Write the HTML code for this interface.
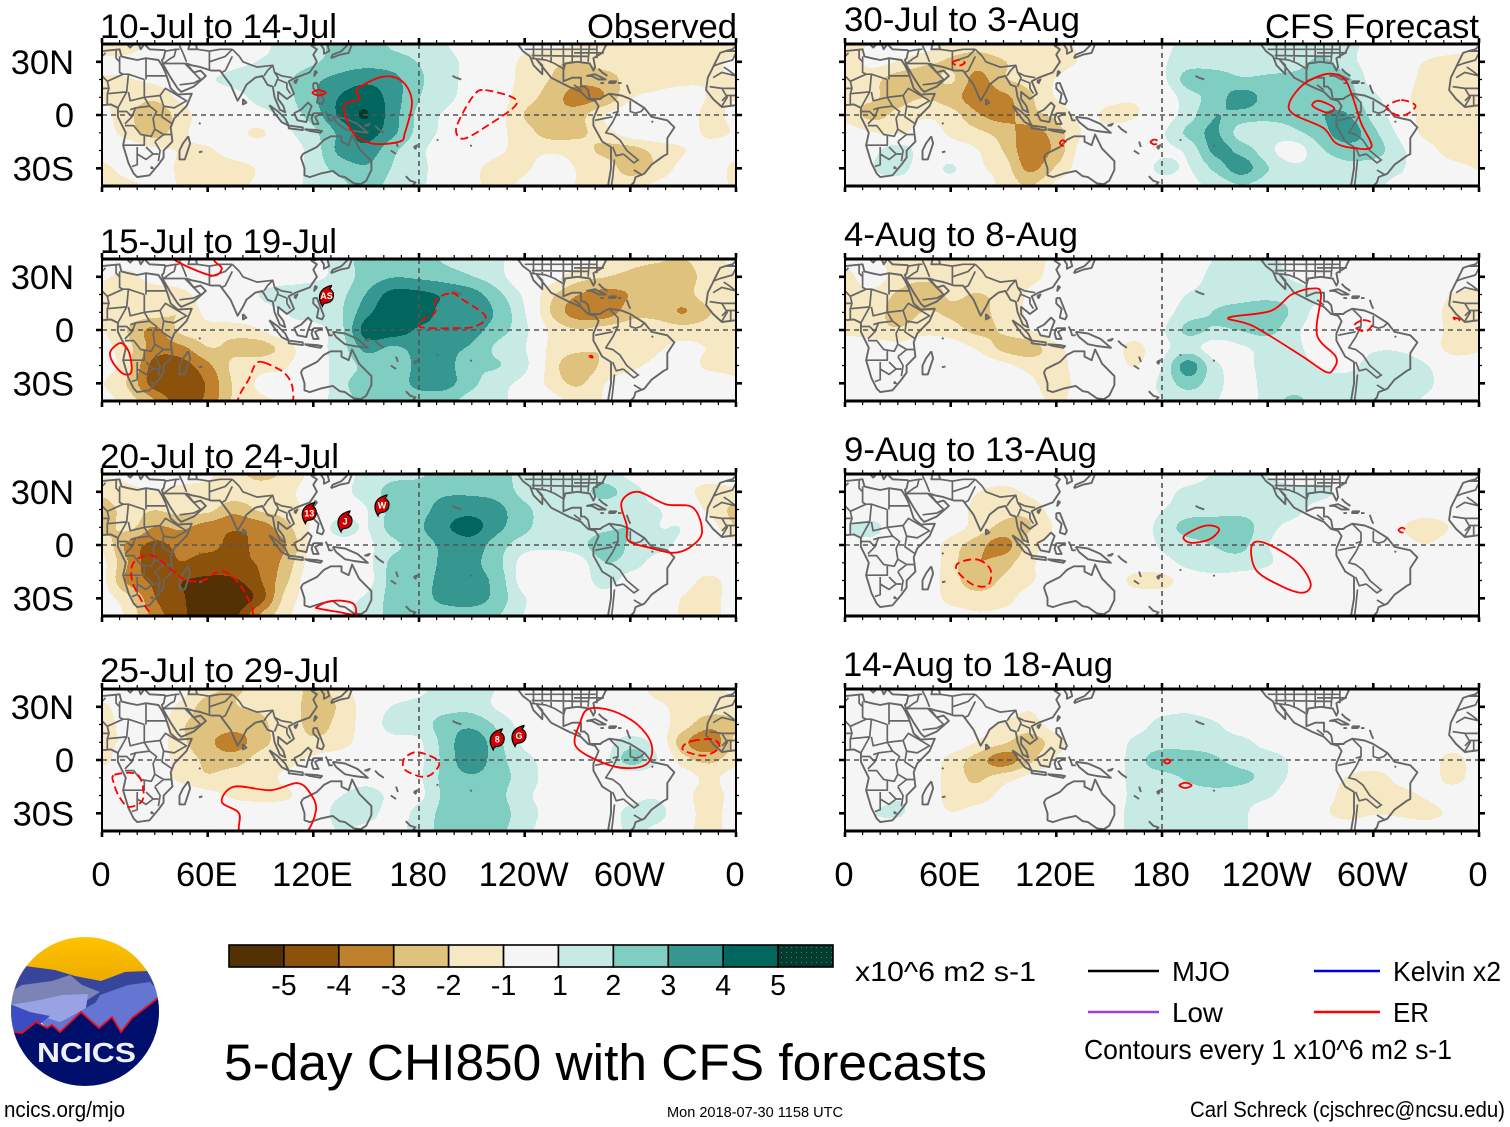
<!DOCTYPE html>
<html lang="en">
<head>
<meta charset="utf-8">
<title>5-day CHI850 with CFS forecasts</title>
<style>
html,body{margin:0;padding:0;background:#fff}
svg{display:block}
text{font-family:"Liberation Sans",sans-serif;fill:#000}
</style>
</head>
<body>
<svg id="chart" xmlns="http://www.w3.org/2000/svg" width="1510" height="1127" viewBox="0 0 1510 1127">
<rect width="1510" height="1127" fill="#fff"/>
<defs><pattern id="stipple" width="5" height="5" patternUnits="userSpaceOnUse"><rect width="5" height="5" fill="#003c30"/><rect x="1" y="2" width="1" height="1" fill="#4f7f72"/></pattern></defs>

<g id="p1"></g>
<g id="p2"></g>
<g id="p3"></g>
<g id="p4"></g>
<g id="p5"></g>
<g id="p6"></g>
<g id="p7"></g>
<g id="p8"></g>

<text x="100" y="38" font-size="34.7" textLength="237" lengthAdjust="spacingAndGlyphs">10-Jul to 14-Jul</text>
<text x="100" y="253" font-size="34.7" textLength="237" lengthAdjust="spacingAndGlyphs">15-Jul to 19-Jul</text>
<text x="100" y="468" font-size="34.7" textLength="239" lengthAdjust="spacingAndGlyphs">20-Jul to 24-Jul</text>
<text x="100" y="682" font-size="34.7" textLength="239" lengthAdjust="spacingAndGlyphs">25-Jul to 29-Jul</text>
<text x="844" y="31" font-size="34.7" textLength="236" lengthAdjust="spacingAndGlyphs">30-Jul to 3-Aug</text>
<text x="844" y="246" font-size="34.7" textLength="234" lengthAdjust="spacingAndGlyphs">4-Aug to 8-Aug</text>
<text x="844" y="461" font-size="34.7" textLength="253" lengthAdjust="spacingAndGlyphs">9-Aug to 13-Aug</text>
<text x="843" y="676" font-size="34.7" textLength="270" lengthAdjust="spacingAndGlyphs">14-Aug to 18-Aug</text>
<text x="587" y="38" font-size="34.7" textLength="150" lengthAdjust="spacingAndGlyphs">Observed</text>
<text x="1265" y="38" font-size="34.7" textLength="214" lengthAdjust="spacingAndGlyphs">CFS Forecast</text>

<g id="colorbar"></g>
<text x="855" y="981" font-size="27.5" textLength="181" lengthAdjust="spacingAndGlyphs">x10^6 m2 s-1</text>

<g>
<line x1="1088" x2="1159" y1="971" y2="971" stroke="#000" stroke-width="2.4"/>
<text x="1172" y="981" font-size="27.5" textLength="58" lengthAdjust="spacingAndGlyphs">MJO</text>
<line x1="1314" x2="1380" y1="971" y2="971" stroke="#0000e6" stroke-width="2.4"/>
<text x="1393" y="981" font-size="27.5" textLength="108" lengthAdjust="spacingAndGlyphs">Kelvin x2</text>
<line x1="1088" x2="1159" y1="1012" y2="1012" stroke="#a03ce6" stroke-width="2.4"/>
<text x="1172" y="1022" font-size="27.5" textLength="51" lengthAdjust="spacingAndGlyphs">Low</text>
<line x1="1314" x2="1380" y1="1012" y2="1012" stroke="#f00" stroke-width="2.4"/>
<text x="1393" y="1022" font-size="27.5" textLength="36" lengthAdjust="spacingAndGlyphs">ER</text>
<text x="1084" y="1059" font-size="27.5" textLength="368" lengthAdjust="spacingAndGlyphs">Contours every 1 x10^6 m2 s-1</text>
</g>

<text x="224" y="1080" font-size="51.4" textLength="763" lengthAdjust="spacingAndGlyphs">5-day CHI850 with CFS forecasts</text>
<a><text x="4" y="1117" font-size="22" textLength="121" lengthAdjust="spacingAndGlyphs">ncics.org/mjo</text></a>
<text x="667" y="1117" font-size="14.5" textLength="176" lengthAdjust="spacingAndGlyphs">Mon 2018-07-30 1158 UTC</text>
<text x="1190" y="1117" font-size="22" textLength="315" lengthAdjust="spacingAndGlyphs">Carl Schreck (cjschrec@ncsu.edu)</text>

<g>
<defs><clipPath id="logoClip"><ellipse cx="85" cy="1011.5" rx="74" ry="74.5"/></clipPath>
<linearGradient id="sun" x1="0" y1="0" x2="0" y2="1"><stop offset="0" stop-color="#ffc400"/><stop offset="1" stop-color="#eca800"/></linearGradient></defs>
<g clip-path="url(#logoClip)">
<rect x="10" y="936" width="150" height="50" fill="url(#sun)"/>
<polygon points="10,985 25,966 55,970 75,976 101,981 125,972 148,971 162,990 162,1010 10,1010" fill="#37459b"/>
<polygon points="10,992 22,985 52,981 70,975 82,985 100,992 78,1006 40,1012 10,1005" fill="#7c84b6"/>
<polygon points="85,1020 100,995 128,985 150,982 162,995 162,1035 85,1035" fill="#6576d2"/>
<polygon points="10,1005 40,1000 62,995 88,994 86,1008 60,1022 30,1012" fill="#99a3e4"/>
<polygon points="30,1012 60,1022 86,1008 100,1000 120,1040 60,1040" fill="#6576d2"/>
<polygon points="10,1004 30,1012 50,1016 40,1024 15,1040 10,1040" fill="#3c4dc4"/>
<polygon points="12,1032 22,1033 36,1022 47,1028 52,1025 60,1032 81,1012 99,1028 112,1017 121,1032 132,1018 158,998 162,998 162,1090 10,1090" fill="#000f6b"/>
<polyline points="14,1032 22,1033 36,1022 47,1028 52,1025 60,1032 81,1012 99,1028 112,1017 121,1032 132,1018 158,998" fill="none" stroke="#e8101c" stroke-width="1.8"/>
</g>
<text x="37" y="1062" font-size="28" font-weight="700" style="fill:#eef0f6" textLength="99" lengthAdjust="spacingAndGlyphs">NCICS</text>
</g>
</svg>

<script>
/* ---------- shared axes data ---------- */
const lons = [0,15,30,45,60,75,90,105,120,135,150,165,180,195,210,225,240,255,270,285,300,315,330,345,360];
const lats = [40,30,20,10,0,-10,-20,-30,-40];
const lonTicks = [0,60,120,180,240,300,360];
const lonTickLabels = ["0","60E","120E","180","120W","60W","0"];
const latTicks = [30,0,-30];
const latTickLabels = ["30N","0","30S"];
const levelBreaks = [-5,-4,-3,-2,-1,1,2,3,4,5];
const levelColors = ["#543005","#8c510a","#bf812d","#dfc27d","#f6e8c3","#f5f5f5","#c7eae5","#80cdc1","#35978f","#01665e","#003c30"];
const colorbarLabels = ["-5","-4","-3","-2","-1","1","2","3","4","5"];

/* ---------- CHI850 anomaly fields (x10^6 m2/s), rows = lats, cols = lons ---------- */
const field1 = [
[-1.2,-1.2,-.5,0,0,.3,.5,1.1,1.3,2.2,2.2,1.6,1.3,.8,0,0,-.4,-.5,-.7,-1.2,-1.5,-1.4,-1.4,-1.2,-1.2],
[-.6,-.5,0,0,0,.5,.8,1.1,1.6,2.2,2.4,2.2,1.7,1.2,.3,-.1,-1,-1.5,-1.8,-1.4,-1.5,-1.5,-1.4,-1,-.6],
[-.8,-.8,-.5,0,.6,1,1.1,1.6,2.5,3.1,3.5,3.1,1.9,1.3,.2,-.2,-1.1,-1.8,-2.4,-2.2,-1.4,-1.2,-1,-.8,-.8],
[-.8,-1.2,-1.5,-.5,0,.4,1.1,1.5,2.6,3.8,4.3,3.3,1.8,1.1,.2,-.3,-1.3,-2.2,-3.2,-2.7,-.9,-.5,-.3,-.8,-.8],
[-.4,-1.5,-2.5,-1.2,-.2,0,.3,1.2,2.2,3.9,4.8,3.2,1.5,.6,0,-.4,-1.8,-2.5,-2.2,-.8,0,0,-.2,-1,-.5],
[-.3,-1.2,-2.2,-1,-.3,-.4,-.9,.5,1.5,3,4.2,3,1.4,.5,0,-.5,-1.3,-2.2,-2,-1.2,-.2,0,-.3,-.9,-.7],
[-.2,0,-.5,-.8,-.9,-.2,0,.2,1.2,3,3.4,2,1,.2,0,-.6,-1,-.9,-1.2,-2,-2.2,-1.4,-.8,-.4,-.3],
[-1,-.3,0,-1,-1.3,-1.2,-.6,0,1.2,2.1,2.6,1.7,1.1,0,-.5,-1.1,-.9,-.3,-.8,-1.1,-2.2,-1.5,-.4,-.2,-1],
[-1.1,-1,-.5,-.8,-1.1,-1,-.5,.2,1.1,1.5,2,1.5,1,0,-.5,-1.1,-.5,-.2,-.8,-1.2,-1.1,-.5,0,0,-1]];
const field2 = [
[-.4,-.3,-.1,0,0,0,0,0,.4,1.2,2.2,2.4,2.2,1.6,1.2,.9,0,-.2,-.3,-.6,-1.3,-1.6,-1.8,-1.2,-.5],
[-.6,-1,-.3,-.3,0,0,0,0,.5,1.1,2.2,2.7,2.6,2.3,1.8,1.1,-.1,-.3,-1.3,-1.7,-2.1,-2.4,-2.2,-1.3,-.8],
[-1.3,-1.4,-1.3,-1,-.3,0,.8,1.5,1.5,1.5,2.8,4.1,4,3.6,3.2,2,.5,-1.5,-2.7,-3.1,-2.7,-2.1,-2.1,-1.2,-.8],
[-1.2,-1.2,-1.3,-1.7,-.4,0,.1,.8,1.2,1.6,3.4,4.6,4.3,3.4,3.5,2.5,.8,-1.8,-3.3,-3.4,-2.2,-2.1,-2.8,-1.8,-1],
[-.7,-1.8,-3,-1.5,-1.2,-1.3,-.8,.3,.4,1.4,4.2,4.4,3.6,3.4,3.1,2.2,1,-1,-1.7,-1.4,-1.2,-1.2,-1.3,-1.2,-1],
[-.4,-1.5,-3.2,-3,-1.8,-2,-2.2,-1.2,.3,1.2,3.1,2.6,3.1,3,2.6,1.5,.8,-1,-1.5,-1.7,-1.4,-.9,-.5,-.8,-1],
[-.2,-1.5,-4.2,-4.2,-3,-1.5,-1.1,-.8,.2,1.1,2,2,3,3.1,2,1.8,1,-1.2,-2.5,-1.5,-1,-.5,-.2,-1,-1],
[-.7,-1.9,-4.3,-4.5,-3.6,-1.6,-.6,-.5,-.2,1.4,2.2,2,3.1,3.1,2,1.1,.4,-1.1,-1.9,-.8,-.2,0,0,0,-.6],
[-.3,-1.3,-2.7,-4.4,-3.5,-1.6,-.9,-.6,.2,1.2,2.1,2,2.1,2.1,1.3,1,.2,-.3,-1.1,-.7,0,0,0,0,-.3]];
const field3 = [
[-.6,-.5,-.3,-.4,-.6,-1.4,-2,-1.5,-.4,.2,1.1,1.5,1.6,2.2,2.4,2.2,1.3,1.1,1.2,1.2,.5,0,-.2,-.3,-.2],
[-1.5,-1,-.8,-1,-1.1,-1.2,-1.3,-1,-.2,.4,1.2,2.1,2.3,2.6,2.6,2.4,1.4,1,1.2,2.1,1.2,.3,-.4,-1.1,-1],
[-2.2,-1.4,-1.7,-1.4,-1.5,-2.4,-1.6,-1.3,-.3,.2,.7,2.1,2.4,3.2,3.4,3,2,1.2,.9,1.1,1,.8,.2,-1,-2],
[-2.2,-1.5,-2.8,-2.6,-3.2,-3.6,-3.3,-2,-.5,1.2,.7,2.2,2.6,3.6,4.1,3,2,1.1,.9,1.5,1.7,.8,.7,-.2,-1.7],
[-1,-3,-4,-3.4,-3.4,-4,-3.4,-2.7,-.2,.2,.5,1.5,2.2,3,3.3,2.2,1.2,1,1.3,2.4,1.6,1.1,.5,0,-.5],
[-.5,-2.8,-4.4,-3.8,-4.3,-4,-3.6,-2.3,-.2,0,.4,2,2.1,3,3,2,.3,0,.2,1.7,1.3,.3,0,0,-.1],
[-.5,-3,-4,-4.7,-4.9,-4.9,-3.8,-1.9,.1,0,.3,2.1,2.3,3.1,3.2,2.3,.2,0,0,1.2,.2,0,-.3,-1,-.2],
[-.3,-1.5,-3.7,-4.6,-5.5,-5.6,-4.2,-1.3,-.3,.4,.9,2.1,2.3,3.1,3.3,2.3,.8,.1,0,.3,0,0,-.8,-1.2,-.1],
[0,-1,-3.2,-4.5,-5.3,-5,-2.6,-1,.1,.4,1.2,2,2,2.1,2.1,1.8,.7,0,0,0,0,0,-.9,-1.2,0]];
const field4 = [
[0,0,-.2,-.4,-1.5,-1.8,-1.5,-1,-2.1,-1.3,-.1,0,.5,1.1,1.1,.7,.3,.8,.3,0,-.1,-1.1,-1.2,-1,-.5],
[-1,0,-.2,-1,-2.2,-1.8,-1.6,-1.2,-2.2,-1.6,-.2,.8,1.1,1.4,1.4,.6,0,.3,0,0,0,-.5,-1.1,-1.3,-1.4],
[-1.3,-.2,0,-1.6,-2.1,-2.3,-2,-1.2,-2.1,-1.4,-.2,1.2,1.3,2.2,2.5,1.5,.3,0,0,0,0,-.3,-1.3,-2.4,-1.8],
[-.9,-.6,-.2,-1.5,-2.5,-3.2,-2.1,-1.3,-1.5,-1.2,-.2,.3,.6,2.2,3.4,2,.5,0,0,.3,1.2,.3,-2.4,-3.5,-1.5],
[-1.1,0,-.3,-1.1,-2,-2.2,-1.3,-1.1,-.5,-.1,0,0,.5,2.1,3.4,2.1,1.1,.3,0,.3,2.2,.8,-1.3,-2,-1.1],
[0,0,-.2,-1,-1.6,-1.2,-1.2,-.5,0,0,.3,0,.6,2.1,2.6,2.1,1.3,.3,0,0,0,0,-.2,-1,-.2],
[0,0,0,0,-.4,-.9,-1.1,-.9,.1,.7,1.2,.5,.5,2,2.2,2,1,.3,0,.2,.4,.6,-.3,-1.3,-.2],
[0,0,0,-.1,-.1,-.1,0,0,.1,1.1,1.2,.3,1.1,2.1,2.6,2.2,1.2,.4,0,.2,1,1.1,-.1,-1.2,-.1],
[0,0,0,0,-.8,-.2,0,0,.1,.8,.4,.2,1.3,2,2.3,2,1.1,.2,0,.2,.9,.5,-.3,-1.2,-.1]];
const field5 = [
[-1,-.7,-.3,-.2,-1.1,-1.4,-1.1,-.8,-1.1,-.5,0,0,.4,1.2,1.2,1.2,1.1,1.1,1.1,1.1,.3,0,0,0,-.5],
[-1.3,-.5,-.8,-1.5,-1.9,-2.3,-1.8,-1.3,-1.2,-.6,0,0,.6,1.3,1.3,1.2,1.1,1.2,2,1.1,.3,-.1,-.8,-1.2,-1.2],
[-1.4,-1.4,-2.3,-2.4,-1.6,-3.1,-1.9,-1.4,-.7,0,0,0,.5,2.2,2.3,1.9,2,2.2,2.5,2,.3,.1,-1.2,-1.2,-1],
[-1.5,-1.6,-2.1,-1.8,-2.3,-3.3,-3,-1.9,-.7,-.1,-.4,-.6,0,1.3,2.2,3.2,2.4,2.3,2.5,2.2,1,0,-1.6,-1.3,-1],
[-1.2,-2,-1.5,-.9,-1.3,-2.6,-3.1,-2.1,-1.5,-.4,-1,-.8,.1,1.3,2.7,2.4,2.1,2.2,2.7,2.8,1.4,.1,-1.2,-1.2,-1.2],
[-.2,-.7,-.9,-.3,-.9,-1.5,-2.2,-3.2,-2.2,-.7,-.4,-.1,.6,2,2.9,1.3,1.1,1.5,2.3,3.3,2,.5,-1.1,-1.5,-1],
[0,.3,1.4,.1,-.2,-.7,-1.8,-3.4,-2.4,-.3,0,0,.5,1,3,2.4,1.1,.2,1.6,2.2,2.2,1,-.2,-1.2,-1],
[-.1,.7,1.3,0,.9,-.5,-1.2,-3,-1.6,-.2,0,0,1,.7,2,3.2,1.8,1,1.2,1.5,1.2,.9,-.1,-.4,-.8],
[0,0,0,0,0,-.2,-1,-1.8,-.5,0,0,0,.2,.5,1,1.7,1.2,1,1.1,1.2,1,.4,0,0,0]];
const field6 = [
[-.2,-.6,-1.1,-1.2,-1.2,-1.3,-1.2,-1.1,-.5,-.2,0,0,0,0,.8,1.1,1.1,.3,0,0,0,0,0,0,0],
[-1.1,-.2,-1.2,-1.5,-1.3,-1.1,-1.1,-1,-.4,-.1,0,0,0,.2,1.1,1.2,1.2,.6,0,0,0,0,0,0,0],
[-1.2,-1,-1.9,-2.4,-1.6,-1.8,-1.4,-.6,-.1,0,0,0,.1,.8,1.2,1.3,1.4,1.3,.8,0,0,0,0,-.8,-1.1],
[-.8,-1,-2.3,-1.7,-1.9,-2.1,-1.3,-.6,0,0,0,0,.3,1.3,1.8,2.2,2.5,1.5,.3,0,0,0,0,-1.2,-1.2],
[-1,-1.3,-1.6,-1.1,-1.3,-2,-1.6,-.8,0,0,0,0,.6,2,1.6,1.8,2.1,1,.2,0,0,0,0,-1.1,-1.1],
[0,0,-.4,0,-.2,-.9,-2,-2.2,-1,-.2,-.1,-1.1,.4,1.2,.2,.6,1.1,1,.2,.1,.6,.6,.1,-1.2,-1],
[0,0,0,0,0,0,-.5,-1.1,-1.3,0,0,-.8,.8,3.2,1,.5,1.1,1.2,.6,.5,1.1,1.2,.8,0,0],
[0,0,0,0,0,0,-.1,-.5,-1.3,-.2,0,0,1,2.2,1.1,.3,1.1,1.2,1.1,1.1,1.2,1.2,1,0,0],
[0,0,0,0,0,0,0,-.2,-1,-.1,0,.3,.7,1.1,.8,.3,1.1,2,1.1,1.1,1.1,1.1,.6,0,0]];
const field7 = [
[0,0,0,0,0,0,0,0,0,0,0,0,0,0,.9,1.2,.7,0,0,0,0,0,0,0,0],
[0,.7,0,0,0,-.7,-1.1,-.5,0,0,0,0,.3,1.1,1.3,1.3,1.3,1.2,1.1,.3,0,0,0,0,0],
[0,0,0,0,0,-1.1,-1.5,-1.4,-.2,0,0,0,.7,1.2,1.3,1.4,1.3,1.1,.2,0,0,0,0,0,0],
[.7,1.1,0,0,-.2,-1.2,-2,-1.8,-.6,0,0,.2,1.1,2.2,2.4,2.3,1.1,.4,0,0,0,-.6,-1.5,-.6,0],
[.3,.3,0,0,-1.2,-2.3,-3.2,-1.3,-.2,0,0,0,.9,1.3,1.8,2,.8,.2,0,0,0,-.2,-.7,0,0],
[0,0,0,0,-1.3,-2.7,-2.2,-1,0,0,0,0,.3,1.1,1.3,1.3,.9,0,0,0,0,0,0,0,0],
[0,0,0,0,-1.3,-2.2,-1.6,-.9,0,0,0,-1.1,-1.2,0,.4,.2,0,0,0,0,0,0,0,0,0],
[0,0,0,0,-1.1,-1.4,-1.2,-.2,0,0,0,0,0,0,0,0,0,0,0,0,0,0,0,0,0],
[0,0,0,0,-.2,-.6,-.4,0,0,0,0,0,0,0,0,0,0,0,0,0,0,0,0,0,0]];
const field8 = [
[0,0,0,0,0,0,0,0,0,0,0,0,0,0,0,0,0,0,0,0,0,0,0,0,0],
[0,0,0,0,0,0,-.2,-.6,0,0,0,0,.3,.4,0,0,0,0,0,0,0,0,0,0,0],
[0,0,0,0,0,-.3,-.9,-1.2,-.2,0,0,.3,1.1,1.3,.9,0,0,0,0,0,0,0,0,0,0],
[0,0,0,0,0,-.8,-1.6,-2.2,-1.2,0,0,1,1.3,1.3,1.3,1.1,.3,0,0,0,-.1,0,0,0,0],
[0,0,0,0,-1.1,-2.2,-3.3,-2,-.6,0,0,1.3,2.3,2.3,1.9,1.4,1.3,.5,-.3,0,0,0,0,-1.2,0],
[0,0,0,0,-1.2,-1.9,-1.2,-.5,-.1,0,0,1.2,1.4,1.9,2.3,2,1.4,.5,0,-.8,-1.2,-.4,0,-1.2,0],
[0,0,.6,0,-1.1,-1.3,-.4,0,0,0,0,1.1,1.3,1.3,1.3,1.2,.9,0,-.2,-1.1,-1.1,-1.1,-.6,0,0],
[0,.7,.9,0,-.7,-.3,0,0,0,0,0,1.3,1.3,1.3,1.3,1,0,0,-.5,-1.1,-.8,-.9,-1.1,-.5,0],
[0,0,0,0,0,0,0,0,0,0,0,1.3,1.3,1.3,1.3,1,0,0,0,0,0,0,0,0,0]];
const fields = [field1,field2,field3,field4,field5,field6,field7,field8];

/* ---------- ER wave contours: [lon,lat] loops, dashed = negative ---------- */
const erContours1 = [
 {dash:false,pts:[[160,21.7],[171,18.5],[176,7],[172,-10],[169,-15],[153,-16],[142,-9],[137.5,5],[146,9],[145,14.7]]},
 {dash:false,pts:[[119.5,12.5],[123,14],[127,12.5],[123,11]]},
 {dash:true,pts:[[217.7,14],[233,10],[234.5,5],[220,-5.3],[205.7,-13.3],[201,-9],[204.5,.4],[211.7,11.8]]}];
const erContours2 = [
 {dash:false,pts:[[42,39],[62,30.7],[68,34.5],[64,38.7],[60,44],[40,44]]},
 {dash:false,pts:[[10.8,-7.4],[15.5,-13],[16.7,-23.6],[12,-24.6],[6,-18],[4.8,-12]]},
 {dash:true,pts:[[92,-18.3],[104,-24.6],[108.4,-34],[105,-42],[78,-42],[84,-26.5],[87.3,-19.2]]},
 {dash:true,pts:[[198.5,20.8],[204.5,17.3],[217.7,7.8],[211.7,2],[198.5,1],[180.6,1.7],[183,6.3],[189,9.7],[190,17.3]]},
 {dash:true,pts:[[276.5,-15],[278,-14.5],[278.5,-15.5]]}];
const erContours3 = [
 {dash:true,pts:[[32,-42],[19,-25],[16.7,-14],[20,-8],[28.7,-6],[39.5,-14],[47.8,-20],[58.6,-19.6],[64.6,-15.6],[71.8,-16],[81.3,-27],[84.4,-42],[60,-50]]},
 {dash:false,pts:[[122,-35],[128,-32],[136,-31.4],[143,-33.3],[143.5,-39],[134,-37.7],[123,-35.8]]},
 {dash:false,pts:[[295,24],[304,30],[320,23],[335.6,21],[340.7,7],[333.5,-1.5],[324,-4.4],[311,-1.5],[299,2.3],[298,11]]}];
const erContours4 = [
 {dash:true,pts:[[7,-8.4],[20.3,-8.4],[23.4,-21.7],[15.5,-26.5],[10,-21],[7,-14]]},
 {dash:false,pts:[[79,-42],[77.8,-30],[68,-23.6],[75,-15],[95.7,-17],[111,-13],[118.4,-19],[121.5,-28.4],[114.8,-42],[97,-50]]},
 {dash:true,pts:[[179.4,4.4],[189,1],[191.4,-2.7],[186.6,-8.4],[180.6,-9.3],[172,-5.5],[171,-.8],[173.4,2.5]]},
 {dash:false,pts:[[276.3,28.8],[289.5,27.8],[304,20],[312,8.8],[310,-1.7],[299,-4.6],[284.7,-1.7],[269,7.8],[271.5,21]]},
 {dash:true,pts:[[335,10.7],[347,11.6],[350.5,6.9],[342,2.5],[331,5],[330,7.8]]}];
const erContours5 = [
 {dash:true,pts:[[61,29.5],[64.6,31],[68,29.5],[64.6,27.8]]},
 {dash:true,pts:[[122,-15.8],[123.7,-14.2],[125.5,-15.8],[123.7,-17.4]]},
 {dash:true,pts:[[173.5,-15.2],[175.8,-13.8],[178,-15.2],[175.8,-16.6]]},
 {dash:false,pts:[[274,23.2],[283.4,20.4],[288,10.9],[293,-4.4],[299,-17.7],[289.5,-18.7],[278.7,-15.8],[271.5,-7.2],[254.8,.4],[252.4,7],[260.7,17.5]]},
 {dash:false,pts:[[269,8],[277.5,4.2],[274,1.3],[265.5,5.1]]},
 {dash:true,pts:[[315.8,8.4],[324,5],[316,-.6],[307.4,4.2]]}];
const erContours6 = [
 {dash:false,pts:[[217.7,6.9],[241.6,10.7],[253.6,20],[265.5,23.4],[270.3,20],[268,-2.7],[278.7,-15],[277.5,-21.7],[273,-23.6],[258.4,-14],[232,2.1]]},
 {dash:true,pts:[[294,5.5],[299.5,3.6],[295.5,-.8],[289,2.1]]},
 {dash:true,pts:[[345.5,7],[349,6],[347.5,5]]}];
const erContours7 = [
 {dash:true,pts:[[75.3,-8.2],[82.6,-13.9],[81.3,-22.5],[73,-22.5],[63.9,-14.9],[64.6,-10]]},
 {dash:false,pts:[[204.5,10.9],[212.4,9],[207,3.2],[196,1.3],[192.6,5.1]]},
 {dash:false,pts:[[238,1.3],[256,-9],[264.4,-21.5],[259.6,-26.9],[246.4,-22.5],[233.3,-13.9],[230.9,-.6]]},
 {dash:true,pts:[[314.3,8.4],[316.3,9.8],[318.3,8.4],[316.3,7]]}];
const erContours8 = [
 {dash:false,pts:[[181.2,-.8],[183,.4],[184.8,-.8],[183,-2]]},
 {dash:false,pts:[[189.8,-14.3],[193.3,-12.8],[196.8,-14.3],[193.3,-15.8]]}];
const erContours = [erContours1,erContours2,erContours3,erContours4,erContours5,erContours6,erContours7,erContours8];

/* ---------- tropical cyclone symbols ---------- */
const cyclones1 = [];
const cyclones2 = [{lon:127.5,lat:19.2,label:"AS"}];
const cyclones3 = [{lon:117.7,lat:18,label:"13"},{lon:138,lat:13.3,label:"J"},{lon:159,lat:22.3,label:"W"}];
const cyclones4 = [{lon:224.4,lat:11.6,label:"8"},{lon:236.8,lat:13.5,label:"G"}];
const cyclones = [cyclones1,cyclones2,cyclones3,cyclones4,[],[],[],[]];

/* ---------- map outlines [lon,lat] ---------- */
const coastlines = [
 [[0,36],[10,37],[11,33],[15,32],[20,31],[25,32],[32,31],[34,28],[36,24],[37,21],[39,15],[43,11.5],[51,12],[48,5],[41,-2],[39,-7],[40,-15],[35,-20],[35,-24],[32,-28],[27,-34],[20,-35],[18,-33],[15,-27],[12,-17],[13.5,-10],[9,-1],[9,4],[5,6],[0,5.5]],
 [[360,5.5],[352,4.5],[347,9],[343,14],[344,21],[347,27],[351,35],[354,36],[360,36]],
 [[354,36],[358,37],[360,39]],[[0,39],[3,42]],[[12,42],[16,38],[18,40]],[[20,42],[22,37],[24,40],[27,37],[36,36.5]],
 [[36,36.5],[35,32],[34,31],[35,28],[39,21],[43,15],[45,13],[52,16],[59,22],[56,25],[52,24],[48,29],[51,28],[56,27],[62,25],[67,25],[70,21],[73,17],[77,8],[80,13],[82,17],[87,21],[91,22],[94,17],[97,16],[98,10],[101,3],[104,1.5],[103,5],[100,9],[100,13],[105,9],[109,12],[106,19],[110,21],[118,24],[122,30],[120,34],[122,37],[119,39],[124,40],[126,37],[126,34.5],[129,36],[128,40],[130,43]],
 [[50,41],[49,37],[54,37],[53,41]],
 [[130,32],[135,34],[140,35],[142,40],[141,42]],[[140,42],[140,40],[136,36],[131,34],[130,32]],
 [[121,25],[120.5,22],[122,24],[121,25]],[[109,19],[111,20],[110,18],[109,19]],
 [[120,18],[122,18],[124,13],[126,8],[125,6],[122,7],[123,12],[120,15],[120,18]],
 [[109,1],[113,3],[117,7],[119,5],[117,0],[116,-4],[111,-3],[109,1]],
 [[95,5.5],[100,2],[104,-2],[106,-6],[102,-4],[98,1],[95,5.5]],
 [[106,-6],[114,-7],[114,-8.5],[106,-7.5],[106,-6]],
 [[115,-8],[122,-8.5],[125,-9],[124,-10],[118,-9],[115,-8]],
 [[120,1],[125,1],[121,-1],[123,-5],[120,-5],[119,-2],[120,1]],
 [[127,2],[128,0],[129,-3],[131,-3]],
 [[131,-1],[138,-2],[145,-5],[151,-10],[143,-9],[138,-8],[133,-4],[131,-1]],
 [[149,-6],[152,-5],[151,-6],[149,-6]],[[155,-6],[157,-8],[160,-10]],[[167,-15],[168,-18]],[[164,-20],[167,-22]],
 [[177,-18],[179,-17],[178,-19],[177,-18]],
 [[172.5,-34.5],[175,-37],[178,-38],[176,-40],[174,-41]],
 [[199,22],[201,21],[204,20]],[[55,-21],[57,-20.5]],[[55,-4.5],[56,-5]],[[209,-17],[210,-17.5]],[[190,-14],[191,-14]],
 [[49,-12],[50,-16],[47,-25],[44,-25],[44,-20],[46,-16],[49,-12]],
 [[80,9],[82,7],[80,6],[80,9]],
 [[114,-22],[122,-18],[126,-14],[130,-12],[136,-12],[136,-15],[140,-17],[142,-11],[146,-19],[153,-26],[153,-31],[150,-37],[147,-39],[143,-38.5],[138,-35],[135,-34.5],[131,-31.5],[124,-33],[118,-35],[115,-34],[115,-30],[113,-24],[114,-22]],
 [[236,42],[236,40],[239,36],[243,33],[245,28],[250,23],[250,28],[247,31],[251,26],[255,21],[265,16],[272,13],[276,9],[280,8],[282,5],[279,-2],[279,-6],[284,-15],[289,-18],[289,-30],[287,-42]],
 [[298,-42],[302,-38],[303,-35],[308,-33],[312,-28],[319,-23],[321,-22],[321,-13],[325,-7],[321,-3],[312,-1],[308,4],[300,9],[295,11],[288,12],[284,10],[283,9],[277,9],[276,14],[274,16],[272,16],[272,21],[267,21],[262,19],[262,25],[263,29],[270,30],[277,29],[279,25],[280,27],[279,32],[284,35],[286,39],[288,42]],
 [[275,22],[280,23],[286,20],[282,20],[278,22],[275,22]],[[288,19],[292,19],[291,18],[288,18],[288,19]],[[293,18],[295,18]],[[298,17],[299,14],[300,12]],[[283,18],[285,18]],[[282,26],[284,24],[287,22]],[[312,-3.5],[313,-4]]
];
const borders = [
 [[25,32],[25,20]],[[25,22],[37,22]],[[10,33],[10,24],[12,23],[15,23],[24,20]],[[8,37],[8,32],[10,30]],[[2,35],[-1,32]],
 [[3,19],[12,23]],[[0,22],[3,19],[4,15],[3,12],[14,13],[15,23]],[[0,15],[4,15]],[[3,12],[3,6]],[[14,13],[9,4]],
 [[24,20],[24,10],[27,5],[31,2],[29,-2],[30,-8],[28,-12],[22,-11],[18,-6],[13,-6]],[[15,13],[16,8],[24,10],[33,11],[36,15],[43,11]],[[33,11],[35,5],[41,4],[48,8],[43,11]],
 [[16,3],[19,4],[27,5]],[[17,-1],[19,4]],[[9,2],[14,2],[17,-1],[13,-5]],[[35,5],[34,-1],[40,-5]],[[30,-8],[35,-11],[40,-11]],[[30,-15],[35,-11]],[[30,-15],[33,-20],[32,-26]],
 [[12,-17],[24,-17],[24,-11]],[[20,-18],[20,-28],[17,-29]],[[20,-22],[25,-25],[29,-22],[25,-18]],[[29,-22],[32,-22]],[[28,-29],[29,-30],[28,-30],[28,-29]],
 [[35,29],[47,29],[56,20],[52,18],[44,17]],[[46,35],[48,30]],[[36,36],[42,37],[41,33],[39,32],[35,29]],[[44,39],[46,35]],[[42,37],[44,37]],
 [[61,36],[61,25]],[[61,30],[70,33],[74,37]],[[54,37],[61,36],[67,37],[74,37]],[[74,33],[70,25],[68,24]],[[78,33],[80,30],[88,27],[97,28]],[[92,22],[94,25],[97,28],[98,24],[100,21],[98,16]],[[100,20],[105,18],[105,15]],[[102,22],[108,21]],[[105,15],[107,12]],[[98,24],[102,22]],[[74,37],[78,33]],
 [[360,35],[358,31],[351,29],[347,27.5]],[[360,22],[356,25],[353,27]],[[360,22],[352,24],[347,21]],[[345,16],[352,15],[355,10],[352,5]],[[360,15],[352,15]],[[360,11],[355,11],[352,8]],[[357,5],[357,11]],
 [[288,12],[293,7],[293,2],[290,1]],[[293,2],[290,-4],[286,-10],[290,-11],[294,-14],[298,-20],[304,-25]],[[280,-3],[285,-2],[290,-1]],[[290,-18],[292,-23],[296,-22]],[[291,-25],[290,-35],[289,-42]],[[296,-22],[302,-27],[305,-25]],[[302,-31],[307,-34]],[[300,8],[300,2],[303,1],[306,2],[308,4]],[[268,17],[272,14]],[[243,32],[252,31],[257,29],[262,26]],
 [[245,42],[245,32]],[[250,42],[250,31.5]],[[255,42],[255,30]],[[262,42],[262,27]],[[267,42],[267,30]],[[272,42],[272,30]],[[277,42],[276,30]],[[281,39],[281,32]],
 [[240,37],[281,37]],[[244,33.5],[276,33]],[[255,40],[287,40]],[[268,35],[285,35]]
];

/* ---------- axis functions ---------- */
const pw = 634, ph = 142;
const panelCols = [102,102,102,102,845,845,845,845];
const panelRows = [44,259,474,689,44,259,474,689];
function xScale(lon){return lon/360*pw;}
function yScale(lat){return (40-lat)/80*ph;}
const NS = "http://www.w3.org/2000/svg";
function el(tag,parent,attrs){const e=document.createElementNS(NS,tag);for(const k in attrs)e.setAttribute(k,attrs[k]);parent.appendChild(e);return e;}

function catmull(a,b,c,d,t){return .5*(2*b+(c-a)*t+(2*a-5*b+4*c-d)*t*t+(3*b-a-3*c+d)*t*t*t);}
function sample(grid,lon,lat){
  const fx=Math.min(lon/15,lons.length-1.0001), fy=Math.min((40-lat)/10,lats.length-1.0001);
  const ix=Math.floor(fx), iy=Math.floor(fy), tx=fx-ix, ty=fy-iy;
  const rows=[];
  for(let j=-1;j<=2;j++){
    const r=grid[Math.max(0,Math.min(lats.length-1,iy+j))];
    rows.push(catmull(r[Math.max(0,ix-1)],r[ix],r[ix+1],r[Math.min(lons.length-1,ix+2)],tx));
  }
  const v=catmull(rows[0],rows[1],rows[2],rows[3],ty);
  /* coarse-grid correction: contours sit slightly outside the sampled grid peaks */
  return v+0.25*Math.sign(v)*Math.min(1,Math.abs(v)/0.75);
}
function levelOf(v){let i=0;while(i<levelBreaks.length&&v>=levelBreaks[i])i++;return i;}
function polyPath(list){
  let d="";
  for(const line of list){
    d+=line.map((p,i)=>(i?"L":"M")+xScale(p[0]).toFixed(1)+" "+yScale(p[1]).toFixed(1)).join("");
  }
  return d;
}
function smoothLoop(pts){
  const n=pts.length, P=pts.map(p=>[xScale(p[0]),yScale(p[1])]);
  let d="M"+P[0][0].toFixed(1)+" "+P[0][1].toFixed(1);
  for(let i=0;i<n;i++){
    const p0=P[(i-1+n)%n],p1=P[i],p2=P[(i+1)%n],p3=P[(i+2)%n];
    d+="C"+(p1[0]+(p2[0]-p0[0])/6).toFixed(1)+" "+(p1[1]+(p2[1]-p0[1])/6).toFixed(1)+" "+
        (p2[0]-(p3[0]-p1[0])/6).toFixed(1)+" "+(p2[1]-(p3[1]-p1[1])/6).toFixed(1)+" "+
        p2[0].toFixed(1)+" "+p2[1].toFixed(1);
  }
  return d+"Z";
}

fields.forEach(function(grid,n){
  const g=document.getElementById("p"+(n+1));
  const ox=panelCols[n], oy=panelRows[n];
  g.setAttribute("transform","translate("+ox+" "+oy+")");
  const defs=el("defs",g,{});
  const cp=el("clipPath",defs,{id:"clip"+n});
  el("rect",cp,{x:0,y:0,width:pw,height:ph});
  const map=el("g",g,{"clip-path":"url(#clip"+n+")"});

  /* shaded bands */
  const bands=levelColors.map(()=>"");
  for(let py=0;py<ph;py++){
    let start=0,cur=levelOf(sample(grid,0.5/pw*360,40-(py+.5)/ph*80));
    for(let px=1;px<=pw;px++){
      const lv=px<pw?levelOf(sample(grid,(px+.5)/pw*360,40-(py+.5)/ph*80)):-1;
      if(lv!==cur){
        bands[cur]+="M"+start+" "+py+"h"+(px-start)+"v1h"+(start-px)+"z";
        start=px;cur=lv;
      }
    }
  }
  bands.forEach(function(d,i){
    if(!d)return;
    const b=el("path",map,{d:d,fill:levelColors[i],"shape-rendering":"crispEdges"});
    
    
  });

  /* land outlines */
  const bd=el("path",map,{d:polyPath(borders),fill:"none",stroke:"#666","stroke-width":1.7,"stroke-linejoin":"round"});
  
  
  const cs=el("path",map,{d:polyPath(coastlines),fill:"none",stroke:"#666","stroke-width":1.9,"stroke-linejoin":"round"});
  
  

  /* reference dashed lines */
  const eq=el("line",map,{x1:0,x2:pw,y1:yScale(0),y2:yScale(0),stroke:"#555","stroke-width":1.6,"stroke-dasharray":"5 4"});
  
  
  const dl=el("line",map,{x1:xScale(180),x2:xScale(180),y1:0,y2:ph,stroke:"#555","stroke-width":1.6,"stroke-dasharray":"5 4"});
  
  

  /* ER contours */
  erContours[n].forEach(function(c){
    const a={d:smoothLoop(c.pts),fill:"none",stroke:"#f00","stroke-width":1.8};
    if(c.dash)a["stroke-dasharray"]="8 4";
    const p=el("path",map,a);
    
    
  });

  /* cyclones */
  cyclones[n].forEach(function(c){
    const t=el("g",map,{transform:"translate("+xScale(c.lon).toFixed(1)+" "+yScale(c.lat).toFixed(1)+")"});
    
    
    el("path",t,{d:"M5,-10.5C1,-9.5 -5,-7 -6.5,-2C-8,3 -6,7 -4,10.5C-3.5,8.5 -2,7.5 -1,7.2C5,7 7,3 7,-1C7,-4 5,-6 3,-7C4,-8 5,-9 5,-10.5Z",fill:"#d00000",stroke:"#000","stroke-width":1.2});
    const tx=el("text",t,{x:0,y:3.2,"text-anchor":"middle","font-size":9,"font-weight":700,style:"fill:#fff"});
    tx.textContent=c.label;
  });

  /* frame and ticks */
  const fr=el("path",g,{d:"M0 0H"+pw+"V"+ph+"H0Z",fill:"none",stroke:"#000","stroke-width":2});
  
  
  el("path",g,{d:"M-1 0H"+(pw+1)+"M-1 "+ph+"H"+(pw+1),stroke:"#000","stroke-width":3,fill:"none"});
  let minor="",major="";
  for(let lon=0;lon<=360;lon+=10){
    const x=xScale(lon).toFixed(1);
    if(lon%60===0)major+="M"+x+" -1v-5M"+x+" "+(ph+1)+"v5";
    else minor+="M"+x+" -1v-3M"+x+" "+(ph+1)+"v3";
  }
  for(let lat=-30;lat<=30;lat+=10){
    const y=yScale(lat).toFixed(1);
    if(lat%30===0)major+="M0 "+y+"h-6M"+pw+" "+y+"h6";
    else minor+="M0 "+y+"h-3M"+pw+" "+y+"h3";
  }
  const tm=el("path",g,{d:major,stroke:"#000","stroke-width":2.6,fill:"none"});
  
  
  const tn=el("path",g,{d:minor,stroke:"#000","stroke-width":1.2,fill:"none"});
  
  

  /* latitude labels on left column */
  if(n<4){
    latTicks.forEach(function(lat,i){
      const t=el("text",g,{x:-28,y:yScale(lat)+12,"text-anchor":"end","font-size":34.5});
      
      
      t.textContent=latTickLabels[i];
    });
  }
  /* longitude labels on bottom row */
  if(n===3||n===7){
    lonTicks.forEach(function(lon,i){
      const t=el("text",g,{x:xScale(lon)-1,y:ph+55,"text-anchor":"middle","font-size":34.5});
      
      
      t.textContent=lonTickLabels[i];
    });
  }
});

/* colorbar */
(function(){
  const g=document.getElementById("colorbar");
  const x0=229,w=604/11,y0=945,h=22;
  levelColors.forEach(function(c,i){
    const r=el("rect",g,{x:x0+i*w,y:y0,width:w,height:h,fill:i===10?"url(#stipple)":c,stroke:"#000","stroke-width":1.6});
    
    
  });
  colorbarLabels.forEach(function(s,i){
    const t=el("text",g,{x:x0+(i+1)*w+(i===5?1.5:0),y:995,"text-anchor":"middle","font-size":28.5});
    
    
    t.textContent=s;
  });
})();
</script>
</body>
</html>
